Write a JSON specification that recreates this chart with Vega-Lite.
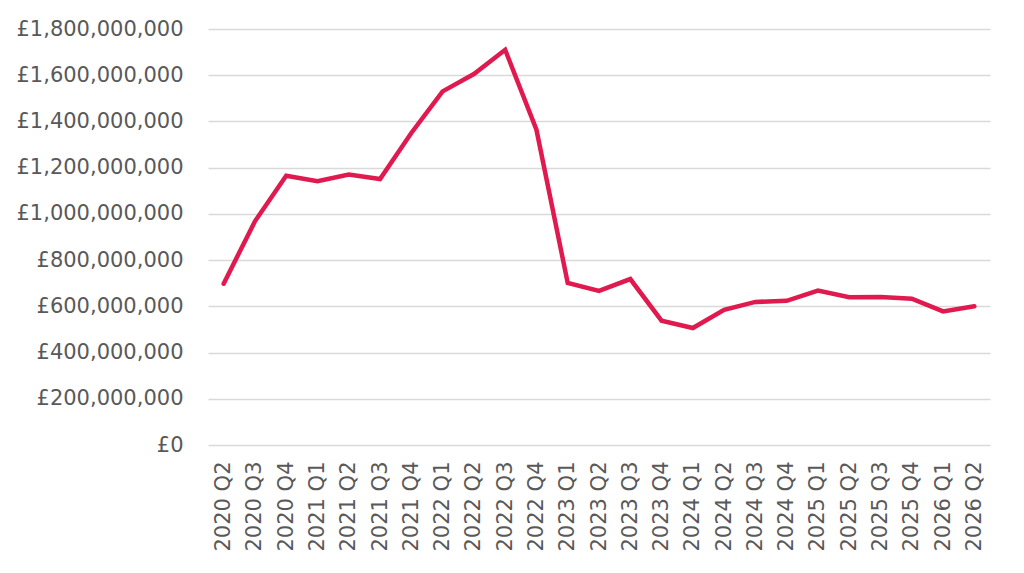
{
  "$schema": "https://vega.github.io/schema/vega-lite/v6.json",
  "autosize": "none",
  "padding": {"left": 208, "top": 29, "right": 34, "bottom": 128},
  "width": 782,
  "height": 416,
  "background": "white",
  "data": {
    "values": [
      {"quarter": "2020 Q2", "value": 698000000},
      {"quarter": "2020 Q3", "value": 968000000},
      {"quarter": "2020 Q4", "value": 1165000000},
      {"quarter": "2021 Q1", "value": 1141000000},
      {"quarter": "2021 Q2", "value": 1170000000},
      {"quarter": "2021 Q3", "value": 1151000000},
      {"quarter": "2021 Q4", "value": 1350000000},
      {"quarter": "2022 Q1", "value": 1530000000},
      {"quarter": "2022 Q2", "value": 1605000000},
      {"quarter": "2022 Q3", "value": 1710000000},
      {"quarter": "2022 Q4", "value": 1364000000},
      {"quarter": "2023 Q1", "value": 701000000},
      {"quarter": "2023 Q2", "value": 667000000},
      {"quarter": "2023 Q3", "value": 718000000},
      {"quarter": "2023 Q4", "value": 538000000},
      {"quarter": "2024 Q1", "value": 506000000},
      {"quarter": "2024 Q2", "value": 585000000},
      {"quarter": "2024 Q3", "value": 619000000},
      {"quarter": "2024 Q4", "value": 624000000},
      {"quarter": "2025 Q1", "value": 668000000},
      {"quarter": "2025 Q2", "value": 639000000},
      {"quarter": "2025 Q3", "value": 640000000},
      {"quarter": "2025 Q4", "value": 633000000},
      {"quarter": "2026 Q1", "value": 578000000},
      {"quarter": "2026 Q2", "value": 600000000}
    ]
  },
  "mark": {"type": "line", "color": "#E0194F", "strokeWidth": 4.5, "strokeJoin": "miter", "strokeCap": "round"},
  "encoding": {
    "x": {
      "field": "quarter",
      "type": "ordinal",
      "sort": null,
      "axis": {
        "title": null,
        "labelAngle": -90,
        "labelAlign": "right",
        "labelBaseline": "middle",
        "labelPadding": 16,
        "domain": false,
        "ticks": false,
        "grid": false
      }
    },
    "y": {
      "field": "value",
      "type": "quantitative",
      "scale": {"domain": [0, 1800000000], "nice": false},
      "axis": {
        "title": null,
        "values": [0, 200000000, 400000000, 600000000, 800000000, 1000000000, 1200000000, 1400000000, 1600000000, 1800000000],
        "labelExpr": "'£' + format(datum.value, ',')",
        "labelPadding": 25,
        "domain": false,
        "ticks": false,
        "gridColor": "#D9D9D9",
        "gridWidth": 1.5
      }
    }
  },
  "config": {
    "view": {"stroke": null},
    "axis": {"labelFont": "DejaVu Sans", "labelFontSize": 21, "labelColor": "#595959"}
  }
}
